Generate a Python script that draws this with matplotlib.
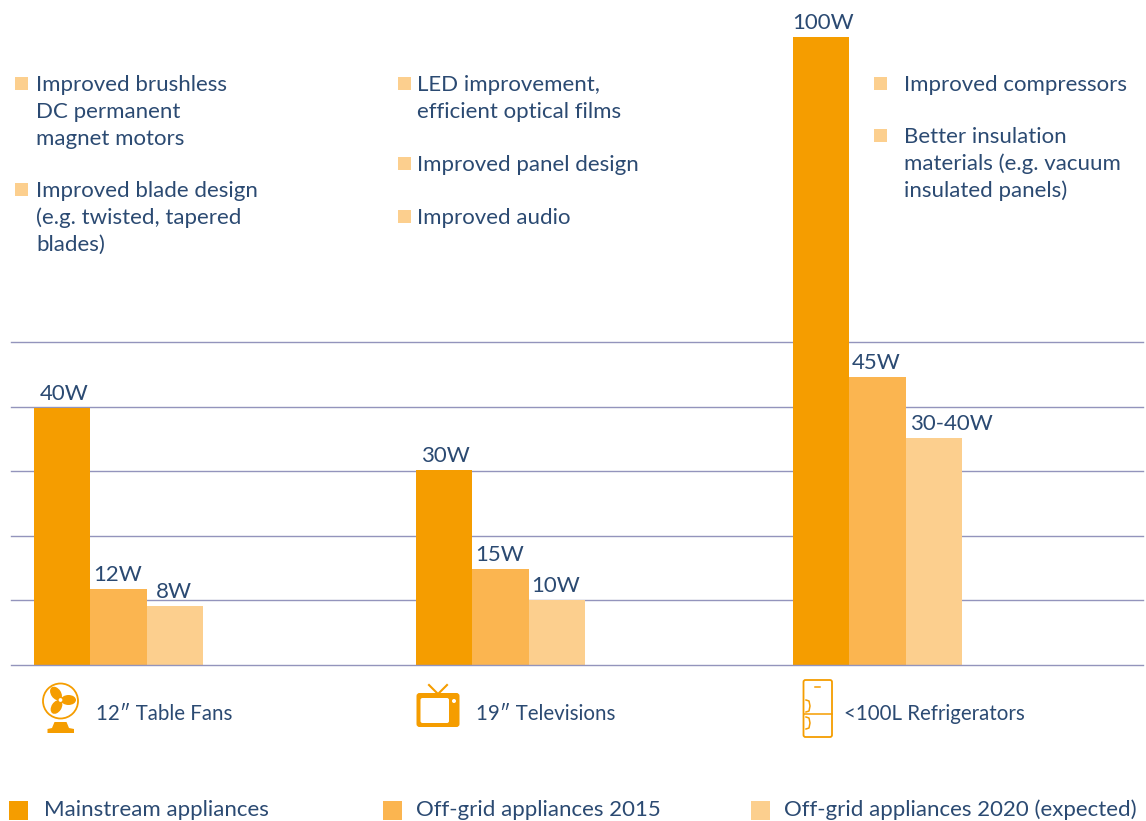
import matplotlib
matplotlib.use("Agg")
import matplotlib.pyplot as plt
from matplotlib.patches import Rectangle, Circle, Ellipse, FancyBboxPatch, Polygon

plt.rcParams['font.family'] = ['Lato', 'DejaVu Sans']

# values read against the gridlines (10W spacing)
fans = [39.8, 11.7, 9.1]
tvs = [30.2, 14.8, 10.0]
fridges = [97.4, 44.6, 35.2]
fan_labels = ["40W", "12W", "8W"]
tv_labels = ["30W", "15W", "10W"]
fridge_labels = ["100W", "45W", "30-40W"]
grid_values = [0, 10, 20, 30, 40, 50]
series_names = ["Mainstream appliances", "Off-grid appliances 2015", "Off-grid appliances 2020 (expected)"]
product_names = ["12\u2033 Table Fans", "19\u2033 Televisions", "<100L Refrigerators"]

fan_notes = ["Improved brushless\nDC permanent\nmagnet motors", "Improved blade design\n(e.g. twisted, tapered\nblades)"]
tv_notes = ["LED improvement,\nefficient optical films", "Improved panel design", "Improved audio"]
fridge_notes = ["Improved compressors", "Better insulation\nmaterials (e.g. vacuum\ninsulated panels)"]

colors = ["#F59D00", "#FBB550", "#FCCF8E"]
text_col = "#2B4A72"
grid_col = "#9394BC"
icon_col = "#F59D00"
fs = 16

W, H = 1146, 821
fig = plt.figure(figsize=(W / 100, H / 100), dpi=100)

# chart axes: x in pixels, y in watts
ax = fig.add_axes([0, 0, 1, 1])
px_per_w = 6.44
base = 664.5
ax.set_xlim(0, W)
ax.set_ylim((base - H) / px_per_w, base / px_per_w)
ax.axis("off")

for g in grid_values:
    ax.plot([11, 1143], [g, g], color=grid_col, lw=1.0, zorder=3 if g == 0 else 1)

bar_w = 56.4
for start, vals, labs in [(34, fans, fan_labels), (416, tvs, tv_labels), (793, fridges, fridge_labels)]:
    for i in range(3):
        x = start + i * bar_w
        ax.bar(x, vals[i], width=bar_w, align="edge", color=colors[i], zorder=2)
        shift = 17 if labs[i] == "30-40W" else (1.5 if i == 0 else -1)
        ax.annotate(labs[i], (x + bar_w / 2 + shift, vals[i]), xytext=(0, 3),
                    textcoords="offset points", ha="center", va="bottom", color=text_col, fontsize=fs)

# overlay in image pixels for notes, icons and legend
ov = fig.add_axes([0, 0, 1, 1])
ov.set_xlim(0, W)
ov.set_ylim(H, 0)
ov.axis("off")
ov.patch.set_alpha(0)


def notes(x_box, x_txt, items, ys):
    for item, y in zip(items, ys):
        ov.add_patch(Rectangle((x_box, y - 6.5), 13, 13, color=colors[2], lw=0))
        for k, line in enumerate(item.split("\n")):
            ov.text(x_txt, y + 1 + k * 26.8, line, color=text_col, fontsize=fs, va="center")


notes(15, 36, fan_notes, [84, 190])
notes(398, 417, tv_notes, [84, 164, 217])
notes(874, 904, fridge_notes, [84, 136])

# product names
for x, name in zip([96, 476, 844], product_names):
    ov.text(x, 713.5, name, color=text_col, fontsize=14.8, va="center")

# legend
for x, tx, c, name in zip([9, 383, 751], [44, 416, 784], colors, series_names):
    ov.add_patch(Rectangle((x, 801), 19, 19, color=c, lw=0))
    ov.text(tx, 810, name, color=text_col, fontsize=fs, va="center")

# fan icon
ov.add_patch(Circle((60.5, 701), 17.5, fill=False, ec=icon_col, lw=1.3))
for cx, cy, a in [(56, 693.5, 55), (68.5, 700, 0), (56.5, 707, -57)]:
    ov.add_patch(Ellipse((cx, cy), 15, 10, angle=a, color=icon_col, lw=0))
ov.add_patch(Circle((60.5, 700), 2.6, color="white", ec=icon_col, lw=1))
ov.add_patch(Polygon([(47.5, 733), (47.5, 729), (52, 728), (54.5, 722), (66.5, 722), (69, 728), (74, 729), (74, 733)],
                     color=icon_col, lw=0))

# tv icon
ov.add_patch(FancyBboxPatch((419, 695.5), 38, 29, boxstyle="round,pad=2.5,rounding_size=3", color=icon_col, lw=0))
ov.add_patch(FancyBboxPatch((420.5, 698), 28.5, 25, boxstyle="round,pad=0,rounding_size=2", color="white", lw=0))
ov.add_patch(Circle((454, 701), 2, color="white", lw=0))
ov.plot([429, 438, 447], [685, 694, 685], color=icon_col, lw=1.5)

# fridge icon
ov.add_patch(FancyBboxPatch((803.5, 680), 28.5, 57, boxstyle="round,pad=0,rounding_size=2", fill=False, ec=icon_col, lw=1.3))
ov.plot([803.5, 832], [714, 714], color=icon_col, lw=1.1)
ov.plot([815, 820], [687, 687], color=icon_col, lw=1.1)
for y in [706, 723]:
    ov.plot([806, 809, 810, 809, 806], [y - 6, y - 5, y, y + 5, y + 6], color=icon_col, lw=1.1)

fig.savefig("out.png", dpi=100, facecolor="white")
